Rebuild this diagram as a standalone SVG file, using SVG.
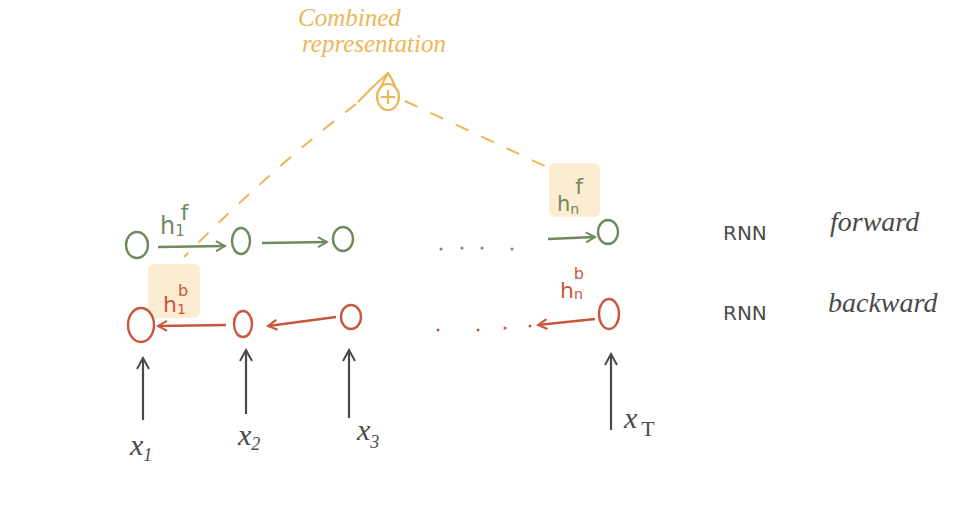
<svg xmlns="http://www.w3.org/2000/svg" width="963" height="524" viewBox="0 0 963 524">
<defs>
<marker id="ag" markerWidth="12" markerHeight="12" refX="10" refY="6" orient="auto" markerUnits="userSpaceOnUse"><path d="M1,1 L10,6 L1,11" fill="none" stroke="#6f8a5c" stroke-width="2"/></marker>
<marker id="ar" markerWidth="12" markerHeight="12" refX="10" refY="6" orient="auto" markerUnits="userSpaceOnUse"><path d="M1,1 L10,6 L1,11" fill="none" stroke="#c9573c" stroke-width="2"/></marker>
<marker id="ak" markerWidth="14" markerHeight="14" refX="12" refY="7" orient="auto" markerUnits="userSpaceOnUse"><path d="M1,1 L12,7 L1,13" fill="none" stroke="#4a4a48" stroke-width="2"/></marker>
</defs>
<style>
.g{fill:none;stroke:#6f8a5c;stroke-width:2.4}
.r{fill:none;stroke:#c9573c;stroke-width:2.4}
.k{fill:none;stroke:#4a4a48;stroke-width:2.2}
.o{fill:none;stroke:#ebb75a;stroke-width:2.2}
.d{fill:none;stroke:#ebb75a;stroke-width:2;stroke-dasharray:14 14}
.hl{fill:#fcecd2}
.t{font-family:"DejaVu Sans",sans-serif}
.ti{font-family:"Liberation Serif",serif;font-style:italic}
</style>
<rect width="963" height="524" fill="#ffffff"/>
<g id="combined">
<text class="ti" x="298" y="26" font-size="25" fill="#ebb75a">Combined</text>
<text class="ti" x="302" y="52" font-size="25" fill="#ebb75a">representation</text>
<ellipse class="o" cx="388" cy="97" rx="11" ry="13"/>
<path class="o" d="M358,102 Q373,86 388,73 Q393,80 396,89 M380,89 Q384,80 388,73"/>
<path class="o" d="M388,90 V104 M381,97 H395"/>
</g>
<g id="highlights">
<rect class="hl" x="148" y="264" width="52" height="54" rx="6"/>
<rect class="hl" x="549" y="163" width="51" height="54" rx="6"/>
</g>
<g id="connectors">
<path class="d" d="M356,104 Q270,170 184,257"/>
<path class="d" d="M405,101 L549,168"/>
<path class="g" d="M158,247 L225,246" marker-end="url(#ag)"/>
<path class="g" d="M262,243 L327,242" marker-end="url(#ag)"/>
<path class="g" d="M548,239 L595,237" marker-end="url(#ag)"/>
<path class="r" d="M226,325 L158,326" marker-end="url(#ar)"/>
<path class="r" d="M336,317 L268,326" marker-end="url(#ar)"/>
<path class="r" d="M595,319 L538,325" marker-end="url(#ar)"/>
<path class="k" d="M143,420 L143,358" marker-end="url(#ak)"/>
<path class="k" d="M246,414 L246,350" marker-end="url(#ak)"/>
<path class="k" d="M349,418 L349,350" marker-end="url(#ak)"/>
<path class="k" d="M611,430 L611,354" marker-end="url(#ak)"/>
</g>
<g id="dots">
<circle cx="441" cy="249" r="1.5" fill="#6f8a5c"/>
<circle cx="462" cy="248" r="1.5" fill="#6f8a5c"/>
<circle cx="482" cy="248" r="1.5" fill="#6f8a5c"/>
<circle cx="512" cy="249" r="1.5" fill="#6f8a5c"/>
<circle cx="438" cy="330" r="1.5" fill="#c9573c"/>
<circle cx="478" cy="330" r="1.5" fill="#c9573c"/>
<circle cx="505" cy="328" r="1.5" fill="#c9573c"/>
<circle cx="530" cy="326" r="1.5" fill="#c9573c"/>
</g>
<g id="forward-nodes">
<ellipse class="g" cx="137" cy="245" rx="11" ry="13"/>
<ellipse class="g" cx="241" cy="241" rx="9" ry="13"/>
<ellipse class="g" cx="343" cy="239" rx="10" ry="12"/>
<ellipse class="g" cx="608" cy="232" rx="10" ry="12"/>
<text class="t" x="160" y="234" font-size="24" fill="#6f8a5c">h<tspan font-size="15" dy="2">1</tspan><tspan font-size="22" dx="-4" dy="-16">f</tspan></text>
<text class="t" x="557" y="211" font-size="21" fill="#6f8a5c">h<tspan font-size="14" dy="3">n</tspan><tspan font-size="22" dx="-4" dy="-20">f</tspan></text>
</g>
<g id="backward-nodes">
<ellipse class="r" cx="141" cy="325" rx="13" ry="17"/>
<ellipse class="r" cx="243" cy="324" rx="9" ry="13"/>
<ellipse class="r" cx="351" cy="317" rx="10" ry="12"/>
<ellipse class="r" cx="609" cy="314" rx="10" ry="15"/>
<text class="t" x="163" y="312" font-size="22" fill="#c9573c">h<tspan font-size="14" dy="2">1</tspan><tspan font-size="16" dx="-8" dy="-18">b</tspan></text>
<text class="t" x="560" y="298" font-size="22" fill="#c9573c">h<tspan font-size="14" dy="1">n</tspan><tspan font-size="16" dx="-9" dy="-20">b</tspan></text>
</g>
<g id="inputs">
<text class="ti" x="130" y="455" font-size="30" fill="#4a4a48">x<tspan font-size="18" dy="6">1</tspan></text>
<text class="ti" x="238" y="445" font-size="30" fill="#4a4a48">x<tspan font-size="18" dy="5">2</tspan></text>
<text class="ti" x="357" y="440" font-size="30" fill="#4a4a48">x<tspan font-size="18" dy="8">3</tspan></text>
<text class="ti" x="624" y="428" font-size="30" fill="#4a4a48">x<tspan font-size="22" dx="4" dy="8" font-style="normal">T</tspan></text>
</g>
<g id="labels">
<text class="t" x="723" y="240" font-size="20" fill="#4a4a48">RNN</text>
<text class="ti" x="830" y="231" font-size="28" fill="#4a4a48">forward</text>
<text class="t" x="723" y="320" font-size="20" fill="#4a4a48">RNN</text>
<text class="ti" x="828" y="312" font-size="28" fill="#4a4a48">backward</text>
</g>
</svg>
